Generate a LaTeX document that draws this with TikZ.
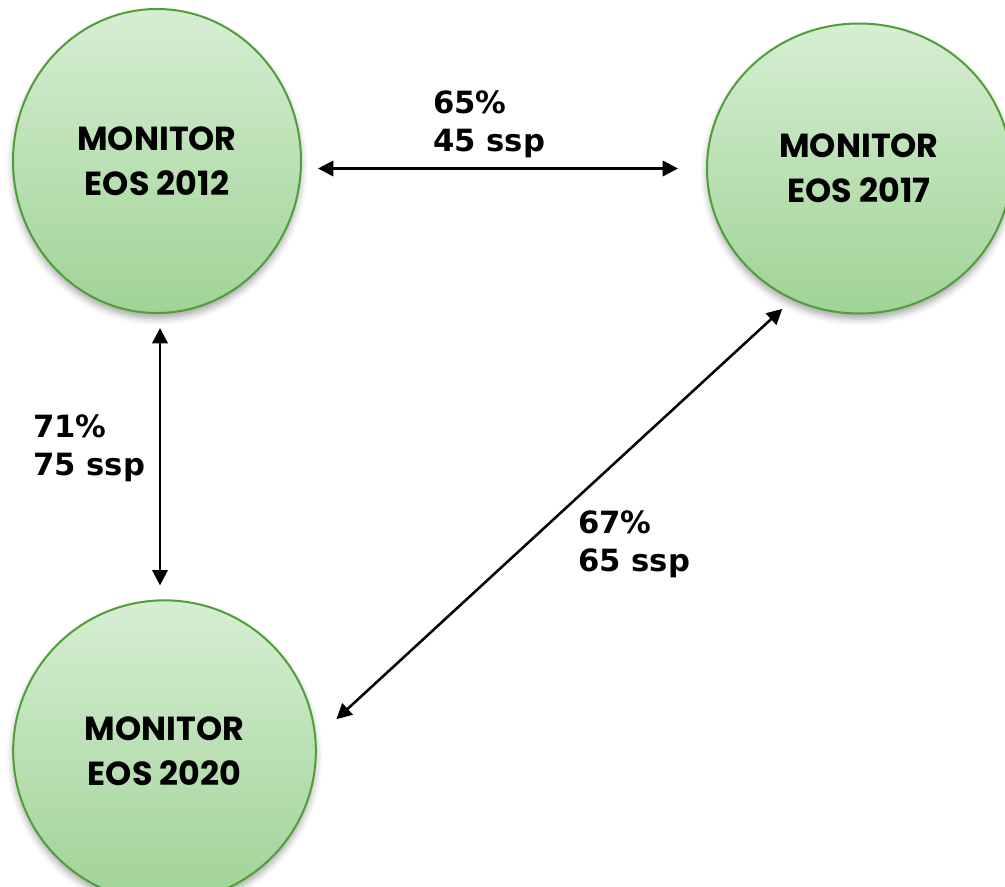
\documentclass[tikz,border=0pt]{standalone}
\usepackage{fontspec}
\usepackage{tikz}
\usetikzlibrary{positioning,arrows.meta,shapes.geometric,shadows.blur}
\newfontfamily\monfont{Poppins}
\newfontfamily\lblfont{DejaVu Sans}
\definecolor{leaftop}{RGB}{214,238,211}
\definecolor{leafbot}{RGB}{160,211,150}
\definecolor{leafline}{RGB}{80,158,58}

\begin{document}
\begin{tikzpicture}[x=0.75pt, y=-0.75pt,
		monitor/.style={ellipse, inner sep=0pt, draw=leafline, line width=1.5pt,
			top color=leaftop, bottom color=leafbot, align=center,
			font=\monfont\bfseries\fontsize{25}{33.5}\selectfont,
			blur shadow={shadow xshift=0pt, shadow yshift=-4pt,
				shadow blur radius=5pt, shadow opacity=35}},
		lbl/.style={anchor=north west, inner sep=0pt, align=left,
			font=\lblfont\bfseries\fontsize{23}{28.5}\selectfont},
		arr/.style={{Triangle[length=11.5pt,width=11.5pt]}-{Triangle[length=11.5pt,width=11.5pt]},
			line width=1.9pt, black}]
		\useasboundingbox (0,0) rectangle (1005,886);
		\node[monitor, minimum width=216pt, minimum height=228pt] (m2012) at (157,161)
			{MONITOR\\EOS 2012};
		\node[monitor, minimum width=228pt, minimum height=217.5pt] (m2017) at (859,168.5)
			{MONITOR\\EOS 2017};
		\node[monitor, minimum width=227pt, minimum height=226pt] (m2020) at (164.5,751)
			{MONITOR\\EOS 2020};
		\node[lbl] (l45) at (433,90) {65\%\\45 ssp};
		\node[lbl] (l75) at (33,414) {71\%\\75 ssp};
		\node[lbl] (l65) at (578,510) {67\%\\65 ssp};
		\draw[arr, shorten <=12pt, shorten >=21pt] (m2012.east |- m2017.west) -- (m2017.west);
		\draw[arr, shorten <=10.5pt, shorten >=10.5pt]
			([xshift=2.25pt]m2012.south) -- ([xshift=2.25pt]m2012.south |- m2020.north);
		\draw[arr, shorten <=10pt, shorten >=20.5pt] (m2017.243.5) -- (m2020.5.5);
	\end{tikzpicture}
\end{document}
